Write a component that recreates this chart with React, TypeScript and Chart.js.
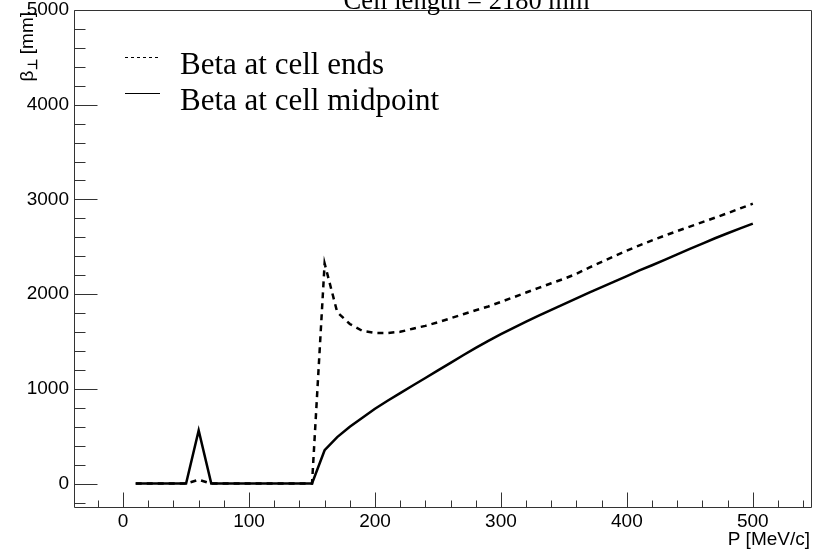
import React, { useEffect, useRef } from 'react';
import { Chart, registerables } from 'chart.js';

Chart.register(...registerables);

const P_MEV = [10, 20, 30, 40, 50, 60, 70, 80, 90, 100, 110, 120, 130, 140, 150, 160, 170, 180, 190, 200, 210, 220, 230, 240, 250, 260, 270, 280, 290, 300, 310, 320, 330, 340, 350, 360, 370, 380, 390, 400, 410, 420, 430, 440, 450, 460, 470, 480, 490, 500];
const BETA_ENDS = [0, 0, 0, 0, 0, 40, 0, 0, 0, 0, 0, 0, 0, 0, 0, 2324, 1810, 1685, 1612, 1591, 1590, 1602, 1635, 1665, 1703, 1745, 1788, 1830, 1870, 1918, 1967, 2017, 2066, 2115, 2162, 2215, 2280, 2340, 2400, 2460, 2515, 2568, 2618, 2666, 2713, 2760, 2807, 2855, 2905, 2955];
const BETA_MID = [0, 0, 0, 0, 0, 560, 0, 0, 0, 0, 0, 0, 0, 0, 0, 352, 490, 600, 695, 790, 875, 955, 1035, 1115, 1195, 1275, 1355, 1432, 1507, 1578, 1645, 1710, 1773, 1835, 1895, 1955, 2015, 2073, 2132, 2190, 2250, 2305, 2362, 2420, 2478, 2533, 2590, 2643, 2695, 2745];

const X_MAJOR = [0, 100, 200, 300, 400, 500];
const X_MINOR = [-20, 20, 40, 60, 80, 120, 140, 160, 180, 220, 240, 260, 280, 320, 340, 360, 380, 420, 440, 460, 480, 520, 540];
const Y_MAJOR = [0, 1000, 2000, 3000, 4000, 5000];
const Y_MINOR = [-200, 200, 400, 600, 800, 1200, 1400, 1600, 1800, 2200, 2400, 2600, 2800, 3200, 3400, 3600, 3800, 4200, 4400, 4600, 4800];

const SERIES_LABELS = ['Beta at cell ends', 'Beta at cell midpoint'];
const TITLE = 'Cell length = 2180 mm';
const X_TITLE = 'P [MeV/c]';

const SANS = "'Liberation Sans', Arial, sans-serif";
const SERIF = "'Liberation Serif', 'Times New Roman', serif";

const rootPlugin = {
  id: 'rootStyle',
  afterDraw(chart: any) {
    const { ctx, chartArea: a, scales } = chart;
    const xs = scales.x;
    const ys = scales.y;
    const L = Math.round(a.left) + 0.5;
    const R = Math.round(a.right) - 0.5;
    const T = Math.round(a.top) + 0.5;
    const B = Math.round(a.bottom) - 0.5;
    ctx.save();
    ctx.strokeStyle = '#333';
    ctx.lineWidth = 1;
    ctx.beginPath();
    ctx.rect(L, T, R - L, B - T);
    Y_MAJOR.forEach((v) => {
      const p = Math.round(ys.getPixelForValue(v)) + 0.5;
      ctx.moveTo(L, p);
      ctx.lineTo(L + 23, p);
    });
    Y_MINOR.forEach((v) => {
      const p = Math.round(ys.getPixelForValue(v)) + 0.5;
      ctx.moveTo(L, p);
      ctx.lineTo(L + 11, p);
    });
    X_MAJOR.forEach((v) => {
      const p = Math.round(xs.getPixelForValue(v)) + 0.5;
      ctx.moveTo(p, B);
      ctx.lineTo(p, B - 15);
    });
    X_MINOR.forEach((v) => {
      const p = Math.round(xs.getPixelForValue(v)) + 0.5;
      ctx.moveTo(p, B);
      ctx.lineTo(p, B - 7);
    });
    ctx.stroke();

    ctx.fillStyle = '#000';
    ctx.font = `26.5px ${SERIF}`;
    ctx.textAlign = 'center';
    ctx.textBaseline = 'alphabetic';
    ctx.fillText(TITLE, 466.5, 9);

    ctx.font = `19px ${SANS}`;
    ctx.textAlign = 'right';
    ctx.fillText(X_TITLE, 810, 545);

    ctx.save();
    ctx.translate(33, 12);
    ctx.rotate(-Math.PI / 2);
    ctx.textAlign = 'left';
    ctx.font = `19px ${SANS}`;
    const wB = ctx.measureText('β').width;
    ctx.font = `bold 13px ${SANS}`;
    const wP = ctx.measureText('⊥').width;
    ctx.font = `19px ${SANS}`;
    const wR = ctx.measureText(' [mm]').width;
    let cx = -(wB + wP + wR);
    ctx.fillText('β', cx, 0);
    cx += wB;
    ctx.font = `bold 13px ${SANS}`;
    ctx.fillText('⊥', cx, 4);
    cx += wP;
    ctx.font = `19px ${SANS}`;
    ctx.fillText(' [mm]', cx, 0);
    ctx.restore();

    const rows = [
      { y: 57.5, base: 74, dash: [3, 3] },
      { y: 93.5, base: 110, dash: [] as number[] },
    ];
    chart.data.datasets.forEach((ds: any, i: number) => {
      const r = rows[i];
      ctx.beginPath();
      ctx.setLineDash(r.dash);
      ctx.strokeStyle = '#000';
      ctx.lineWidth = 1;
      ctx.moveTo(125, r.y);
      ctx.lineTo(160, r.y);
      ctx.stroke();
      ctx.setLineDash([]);
      ctx.font = `31px ${SERIF}`;
      ctx.textAlign = 'left';
      ctx.fillStyle = '#000';
      ctx.fillText(ds.label, 180, r.base);
    });
    ctx.restore();
  },
};

export default function App() {
  const ref = useRef<HTMLCanvasElement | null>(null);
  useEffect(() => {
    if (!ref.current) return;
    const chart = new Chart(ref.current, {
      type: 'line',
      data: {
        labels: P_MEV,
        datasets: [
          {
            label: SERIES_LABELS[0],
            data: P_MEV.map((p, i) => ({ x: p, y: BETA_ENDS[i] })),
            borderColor: '#000',
            borderWidth: 2.5,
            borderDash: [6, 5],
            pointRadius: 0,
            tension: 0,
            fill: false,
          },
          {
            label: SERIES_LABELS[1],
            data: P_MEV.map((p, i) => ({ x: p, y: BETA_MID[i] })),
            borderColor: '#000',
            borderWidth: 2.5,
            pointRadius: 0,
            tension: 0,
            fill: false,
          },
        ],
      },
      options: {
        responsive: false,
        animation: false,
        events: [],
        layout: { padding: { top: 10, right: 5, left: 0, bottom: 0 } },
        plugins: { legend: { display: false }, tooltip: { enabled: false }, title: { display: false } },
        scales: {
          x: {
            type: 'linear',
            min: -39,
            max: 547,
            grid: { display: false, drawTicks: false },
            border: { display: false },
            afterFit: (s: any) => { s.height = 47; },
            afterBuildTicks: (s: any) => { s.ticks = X_MAJOR.map((v) => ({ value: v })); },
            ticks: {
              padding: 9,
              color: '#000',
              maxRotation: 0,
              autoSkip: false,
              font: { family: SANS, size: 19, lineHeight: 0.5 },
              callback: (v: any) => String(v),
            },
          },
          y: {
            type: 'linear',
            min: -258,
            max: 5000,
            grid: { display: false, drawTicks: false },
            border: { display: false },
            afterFit: (s: any) => { s.width = 74; },
            afterBuildTicks: (s: any) => { s.ticks = Y_MAJOR.map((v) => ({ value: v })); },
            ticks: {
              padding: 5,
              color: '#000',
              autoSkip: false,
              font: { family: SANS, size: 19, lineHeight: 0.5 },
              callback: (v: any) => String(v),
            },
          },
        },
      },
      plugins: [rootPlugin],
    });
    return () => chart.destroy();
  }, []);
  return (
    <div style={{ position: 'fixed', left: 0, top: 0, width: 817, height: 555, background: '#fff' }}>
      <canvas ref={ref} width={817} height={555} />
    </div>
  );
}
